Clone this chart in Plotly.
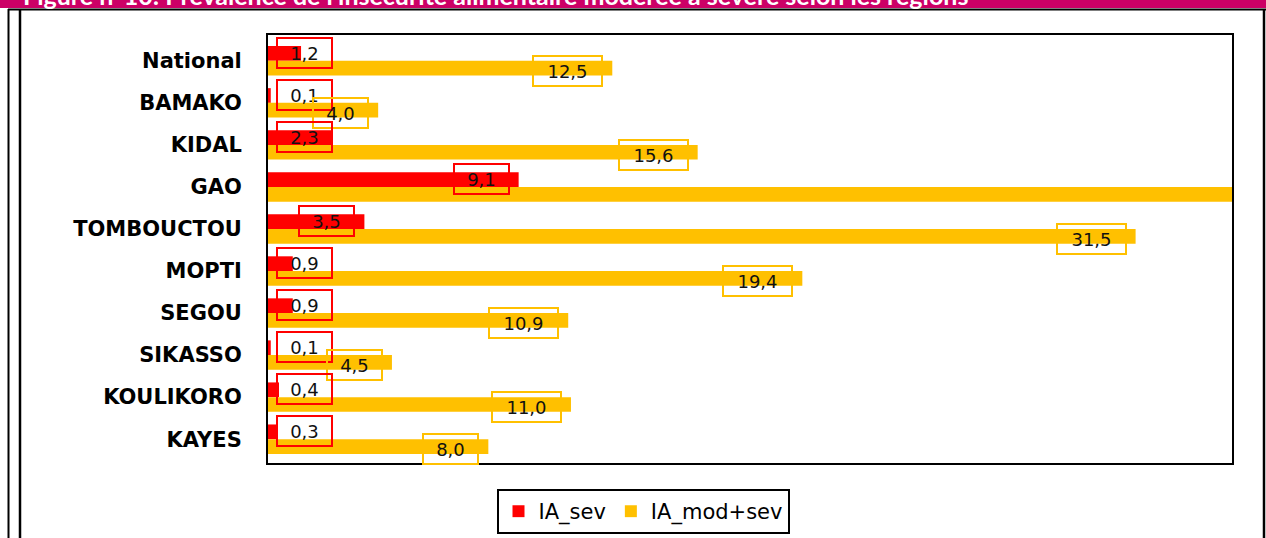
import plotly.graph_objects as go

# Data
regions = ["National", "BAMAKO", "KIDAL", "GAO", "TOMBOUCTOU", "MOPTI",
           "SEGOU", "SIKASSO", "KOULIKORO", "KAYES"]
ia_sev = [1.2, 0.1, 2.3, 9.1, 3.5, 0.9, 0.9, 0.1, 0.4, 0.3]
ia_mod_sev = [12.5, 4.0, 15.6, 37.0, 31.5, 19.4, 10.9, 4.5, 11.0, 8.0]
x_max = 35

RED = "#FF0000"
GOLD = "#FFC000"
FONT = "DejaVu Sans"

# page geometry (pixels) used to place decorations in paper coords
W, H = 1266, 538
L, R, T, B = 268, 34, 35, 75
pw, ph = W - L - R, H - T - B


def px(x):
    return (x - L) / pw


def py(y):
    return (H - B - y) / ph


fig = go.Figure()
fig.add_trace(go.Bar(y=regions, x=ia_sev, orientation="h", name="IA_sev",
                     marker=dict(color=RED, line=dict(width=0)), hoverinfo="x"))
fig.add_trace(go.Bar(y=regions, x=ia_mod_sev, orientation="h", name="IA_mod+sev",
                     marker=dict(color=GOLD, line=dict(width=0)), hoverinfo="x"))

# Data labels in outlined boxes (Excel style "inside end")
annots = []
for i, reg in enumerate(regions):
    for vals, col, shift in ((ia_sev, RED, -0.21), (ia_mod_sev, GOLD, 0.21)):
        v = vals[i]
        if v > x_max:
            continue
        txt = f"{v:.1f}".replace(".", ",")
        bw = 14 * len(txt) + 7
        if v * pw / x_max - 9 - bw < 8:
            xa, xanc, xs = 0, "left", 8
        else:
            xa, xanc, xs = v, "right", -9
        annots.append(dict(
            x=xa, y=i + shift, xref="x", yref="y", text=txt, showarrow=False,
            xanchor=xanc, xshift=xs, yanchor="middle", yshift=-1,
            font=dict(family=FONT, size=18, color="#111111"),
            bordercolor=col, borderwidth=2, borderpad=2,
            width=bw, height=24, bgcolor="rgba(0,0,0,0)"))

# Title (cut off at top of page)
annots.append(dict(
    x=px(22), y=py(11), xref="paper", yref="paper", xanchor="left", yanchor="bottom",
    showarrow=False, borderpad=0,
    text="<b>Figure n°10: Prévalence de l'insécurité alimentaire modérée à sévère selon les régions</b>",
    font=dict(family="Lato", size=25, color="white")))

shapes = [
    # magenta title band
    dict(type="rect", xref="paper", yref="paper", x0=px(-5), x1=px(W + 5),
         y0=py(8), y1=py(-20), fillcolor="#CC0066", line=dict(width=0), layer="below"),
    # frame lines
    dict(type="line", xref="paper", yref="paper", x0=px(8), x1=px(W + 5),
         y0=py(9.5), y1=py(9.5), line=dict(color="black", width=2)),
    dict(type="line", xref="paper", yref="paper", x0=px(8.5), x1=px(8.5),
         y0=py(9), y1=py(H + 5), line=dict(color="black", width=2)),
    dict(type="line", xref="paper", yref="paper", x0=px(20), x1=px(20),
         y0=py(10), y1=py(H + 5), line=dict(color="black", width=2.5)),
    dict(type="line", xref="paper", yref="paper", x0=px(1264), x1=px(1264),
         y0=py(10), y1=py(H + 5), line=dict(color="black", width=2.5)),
]

fig.update_layout(
    width=W, height=H,
    margin=dict(l=L, r=R, t=T, b=B),
    paper_bgcolor="white", plot_bgcolor="white",
    barmode="group", bargap=0.3, bargroupgap=0,
    font=dict(family=FONT, color="black"),
    xaxis=dict(range=[0, x_max], showticklabels=False, showgrid=False, zeroline=False,
               showline=True, mirror=True, linecolor="black", linewidth=2, ticks=""),
    yaxis=dict(autorange="reversed", showgrid=False, showline=True, mirror=True,
               linecolor="black", linewidth=2, ticks="", ticklabelstandoff=20,
               tickfont=dict(family=FONT, size=21, color="black", weight="bold")),
    legend=dict(orientation="h", xref="container", x=643 / W, xanchor="center",
                yref="container", y=1 - 489 / H, yanchor="top",
                bordercolor="black", borderwidth=2, bgcolor="white",
                font=dict(family=FONT, size=21, color="black"),
                traceorder="normal"),
    annotations=annots,
    shapes=shapes,
)

# the page body has a default 8px margin; drop it so the figure sits at the corner
fig.write_html("out.html", config={"displayModeBar": False},
               post_script="document.body.style.margin='0';")
